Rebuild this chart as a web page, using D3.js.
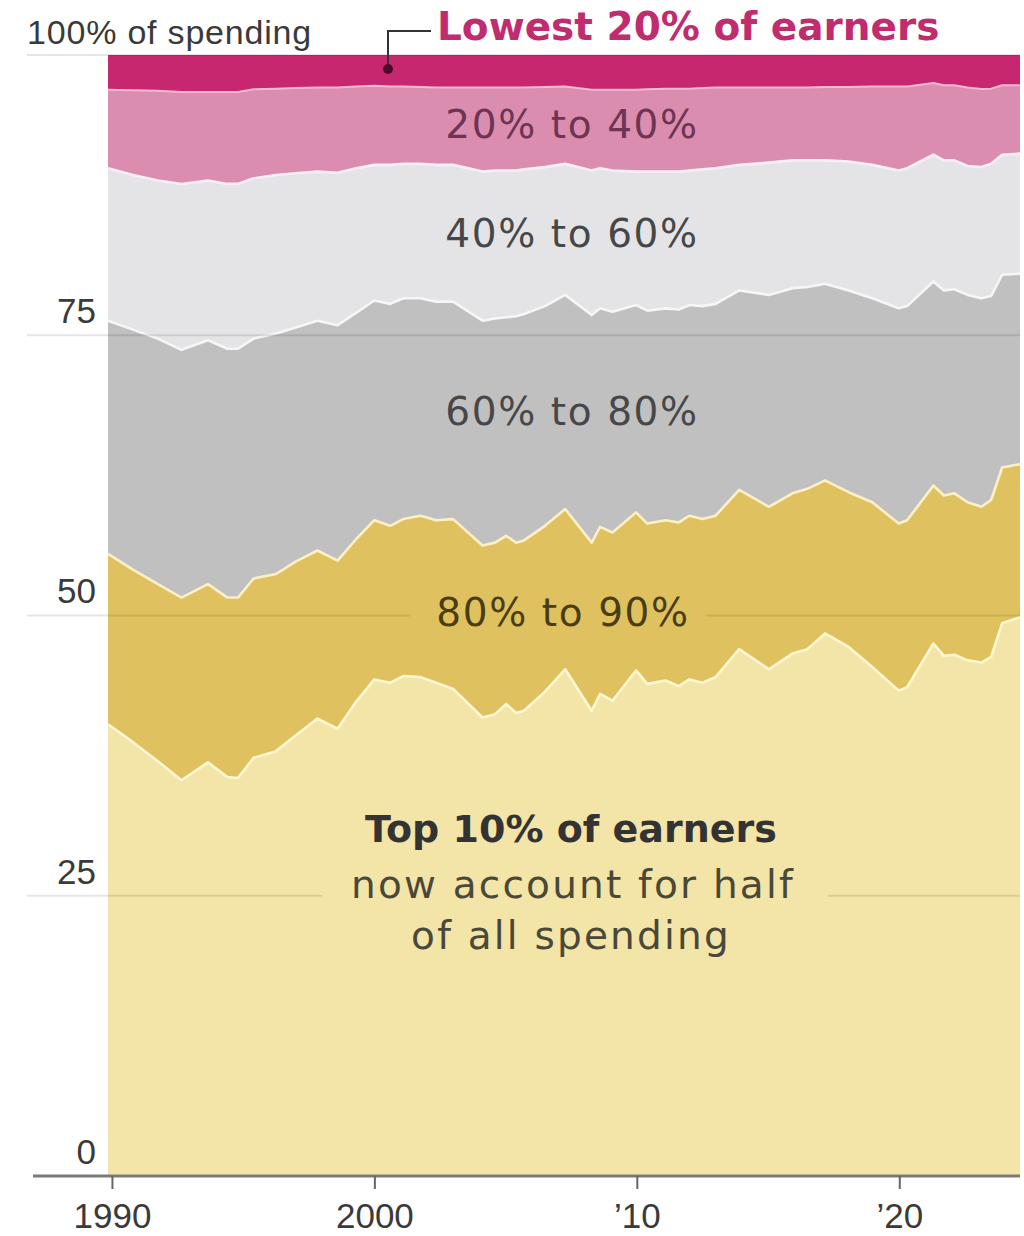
<!DOCTYPE html>
<html>
<head>
<meta charset="utf-8">
<script src="https://cdn.jsdelivr.net/npm/d3@7"></script>
<style>
  html, body { margin: 0; padding: 0; background: #ffffff; }
  svg { display: block; }
</style>
</head>
<body>
<svg id="chart" width="1024" height="1236"></svg>
<script>
// ---- Data (share of total spending, %) ----
const dates = [1989.85, 1990.8, 1991.75, 1992.65, 1993.66, 1994.4, 1994.8, 1995.4, 1996.25, 1997.0,
  1997.83, 1998.6, 1999.3, 2000.0, 2000.6, 2001.1, 2001.76, 2002.35, 2003.0, 2004.12,
  2004.6, 2005.02, 2005.4, 2005.7, 2006.5, 2007.27, 2008.28, 2008.6, 2009.07, 2009.97,
  2010.4, 2011.1, 2011.6, 2012.0, 2012.5, 2013.0, 2013.9, 2015.03, 2015.93, 2016.5,
  2017.17, 2018.07, 2018.97, 2019.98, 2020.3, 2021.3, 2021.7, 2022.1, 2022.6, 2023.13,
  2023.5, 2023.92, 2024.6];

const top10 = [40.3, 38.7, 37.0, 35.3, 36.9, 35.6, 35.5, 37.3, 37.9, 39.3,
  40.8, 39.9, 42.3, 44.3, 44.0, 44.6, 44.5, 44.0, 43.45, 40.9,
  41.2, 42.1, 41.3, 41.5, 43.2, 45.2, 41.5, 43.0, 42.4, 45.1,
  43.9, 44.2, 43.7, 44.3, 44.0, 44.5, 47.0, 45.2, 46.6, 47.0,
  48.4, 47.2, 45.4, 43.3, 43.6, 47.5, 46.4, 46.5, 46.0, 45.8,
  46.3, 49.3, 49.85];

const p80to90 = [15.2, 15.4, 15.8, 16.3, 15.9, 16.0, 16.1, 16.0, 15.8, 15.5,
  15.0, 15.0, 14.5, 14.2, 14.0, 14.0, 14.4, 14.5, 15.15, 15.35,
  15.3, 15.0, 15.2, 15.2, 14.8, 14.3, 15.0, 14.9, 15.0, 14.1,
  14.3, 14.3, 14.6, 14.6, 14.6, 14.4, 14.2, 14.5, 14.3, 14.3,
  13.65, 13.8, 14.7, 14.9, 14.9, 14.1, 14.3, 14.4, 14.1, 13.9,
  14.0, 13.9, 13.65];

const p60to80 = [20.8, 21.4, 21.9, 22.1, 21.75, 22.2, 22.2, 21.4, 21.45, 20.9,
  20.5, 21.0, 20.2, 19.6, 19.8, 19.7, 19.4, 19.5, 19.4, 20.05,
  20.0, 19.5, 20.2, 20.2, 19.6, 19.1, 20.3, 19.5, 19.7, 18.5,
  19.0, 18.9, 19.0, 18.8, 19.0, 18.9, 17.8, 18.9, 18.3, 18.0,
  17.55, 18.0, 18.2, 19.2, 19.1, 18.2, 18.3, 18.2, 18.5, 18.6,
  18.2, 17.2, 17.0];

const p40to60 = [13.6, 13.8, 14.1, 14.8, 14.25, 14.7, 14.7, 14.3, 14.15, 13.75,
  13.3, 13.6, 12.9, 12.1, 12.4, 12.0, 12.0, 12.2, 12.2, 13.3,
  13.2, 13.1, 13.0, 12.9, 12.4, 11.7, 12.9, 12.5, 12.6, 11.9,
  12.4, 12.2, 12.3, 12.0, 12.2, 12.1, 11.2, 11.8, 11.4, 11.3,
  11.0, 11.5, 11.9, 12.3, 12.3, 11.3, 11.6, 11.5, 11.5, 11.7,
  11.8, 10.7, 10.7];

const p20to40 = [7.0, 7.55, 8.0, 8.2, 7.9, 8.2, 8.2, 7.95, 7.7, 7.6,
  7.5, 7.6, 7.3, 7.06, 7.0, 6.9, 6.85, 6.9, 6.9, 7.5,
  7.4, 7.4, 7.4, 7.3, 7.15, 6.9, 7.2, 7.0, 7.2, 7.3,
  7.35, 7.4, 7.4, 7.3, 7.25, 7.2, 6.9, 6.7, 6.5, 6.5,
  6.55, 6.65, 7.0, 7.5, 7.3, 6.4, 6.7, 6.7, 7.0, 6.96,
  6.7, 6.2, 6.1];

const lowest20 = [3.1, 3.15, 3.2, 3.3, 3.3, 3.3, 3.3, 3.05, 3.0, 2.95,
  2.9, 2.9, 2.8, 2.74, 2.8, 2.8, 2.85, 2.9, 2.9, 2.9,
  2.9, 2.9, 2.9, 2.9, 2.85, 2.8, 3.1, 3.1, 3.1, 3.1,
  3.05, 3.0, 3.0, 3.0, 2.95, 2.9, 2.9, 2.9, 2.9, 2.9,
  2.85, 2.85, 2.8, 2.8, 2.8, 2.5, 2.7, 2.7, 2.9, 3.04,
  3.0, 2.7, 2.7];

const groupKeys = ["top10", "p80to90", "p60to80", "p40to60", "p20to40", "lowest20"];
const xTicks = [1990, 2000, 2010, 2020];
const xTickLabels = ["1990", "2000", "\u201910", "\u201920"];
const yTicks = [0, 25, 50, 75];
const gridValues = [25, 50, 75, 100];

// ---- Styles ----
const fills = {
  top10: "#f3e4a8", p80to90: "#dfc25f", p60to80: "#c0c0c1",
  p40to60: "#e4e4e6", p20to40: "#db8db0", lowest20: "#c6276f"
};
const edgeColors = ["#fff7d2", "#fbf0c8", "#f6f6f6", "#fbeff5", "#f3b9d3"];

const svg = d3.select("#chart");

const x = d3.scaleLinear().domain([dates[0], dates[dates.length - 1]]).range([108, 1020]);
const y = d3.scaleLinear().domain([0, 100]).range([1176, 55]);

const rows = dates.map((d, i) => ({
  date: d, top10: top10[i], p80to90: p80to90[i], p60to80: p60to80[i],
  p40to60: p40to60[i], p20to40: p20to40[i], lowest20: lowest20[i]
}));

const stacked = d3.stack().keys(groupKeys).offset(d3.stackOffsetExpand)(rows);

const area = d3.area()
  .x(d => x(d.data.date))
  .y0(d => y(d[0] * 100))
  .y1(d => y(d[1] * 100));

svg.append("g").selectAll("path")
  .data(stacked)
  .join("path")
  .attr("d", area)
  .attr("fill", d => fills[d.key]);

// boundary strokes between layers
const edge = d3.line()
  .x(d => x(d.data.date))
  .y(d => y(d[1] * 100));

svg.append("g").selectAll("path")
  .data(stacked.slice(0, 5))
  .join("path")
  .attr("d", edge)
  .attr("fill", "none")
  .attr("stroke", (d, i) => edgeColors[i])
  .attr("stroke-width", (d, i) => i === 4 ? 2 : 2.6)
  .attr("stroke-linejoin", "round");

// gridlines
svg.append("g").selectAll("line")
  .data(gridValues)
  .join("line")
  .attr("x1", 27).attr("x2", 1020)
  .attr("y1", d => y(d)).attr("y2", d => y(d))
  .attr("stroke", "rgba(0,0,0,0.1)")
  .attr("stroke-width", 2);

// y axis labels
const yAxis = d3.axisLeft(y).tickValues(yTicks).tickFormat(d => String(d)).tickSize(0).tickPadding(0);
const gy = svg.append("g").attr("transform", "translate(96,0)").call(yAxis);
gy.select(".domain").remove();
gy.selectAll("text")
  .attr("dy", "-0.25em")
  .attr("y", -4)
  .attr("font-family", "'Liberation Sans', Arial, sans-serif")
  .attr("font-size", 35)
  .attr("fill", "#3a3a3a");

svg.append("text")
  .attr("x", 27).attr("y", 44)
  .attr("font-family", "'Liberation Sans', Arial, sans-serif")
  .attr("font-size", 34)
  .attr("letter-spacing", 0.8)
  .attr("fill", "#3a3a3a")
  .text("100% of spending");

// x axis
svg.append("line")
  .attr("x1", 33).attr("x2", 1020)
  .attr("y1", 1176).attr("y2", 1176)
  .attr("stroke", "#7a7a7a").attr("stroke-width", 3);

const xAxis = d3.axisBottom(x).tickValues(xTicks)
  .tickFormat((d, i) => xTickLabels[i]).tickSize(13).tickPadding(14);
const gx = svg.append("g").attr("transform", "translate(0,1176)").call(xAxis);
gx.select(".domain").remove();
gx.selectAll(".tick line").attr("stroke", "#666").attr("stroke-width", 2);
gx.selectAll("text")
  .attr("font-family", "'Liberation Sans', Arial, sans-serif")
  .attr("font-size", 35)
  .attr("fill", "#3a3a3a");

// label background boxes (hide gridlines)
svg.append("rect").attr("x", 410).attr("y", 596).attr("width", 296).attr("height", 36).attr("fill", fills.p80to90);
svg.append("rect").attr("x", 322).attr("y", 866).attr("width", 506).attr("height", 40).attr("fill", fills.top10);

// category labels
const regFont = "'DejaVu Sans', 'Open Sans', sans-serif";
function label(txt, cx, by, color, opts = {}) {
  return svg.append("text")
    .attr("x", cx).attr("y", by)
    .attr("text-anchor", opts.anchor || "middle")
    .attr("font-family", regFont)
    .attr("font-size", opts.size || 39)
    .attr("font-weight", opts.bold ? "bold" : "normal")
    .attr("letter-spacing", opts.ls != null ? opts.ls : 1.6)
    .attr("fill", color)
    .text(txt);
}
label("20% to 40%", 572, 138, "#6d3553");
label("40% to 60%", 572, 247, "#474747");
label("60% to 80%", 572, 425, "#474747");
label("80% to 90%", 563, 626, "#4a3d14");
label("Top 10% of earners", 571, 842, "#333333", { bold: true, ls: 0, size: 38 });
label("now account for half", 573, 898, "#4a4838", { ls: 2.2 });
label("of all spending", 571, 949, "#4a4838", { ls: 2.2 });

// Lowest 20% annotation
label("Lowest 20% of earners", 437, 40, "#c02c6e", { bold: true, ls: 0, anchor: "start", size: 39 });
svg.append("path")
  .attr("d", d3.line()([[431, 31], [388, 31], [388, 68]]))
  .attr("fill", "none").attr("stroke", "#333").attr("stroke-width", 2);
svg.append("circle").attr("cx", 388).attr("cy", 69).attr("r", 5).attr("fill", "#4d0a2a");
</script>
</body>
</html>
